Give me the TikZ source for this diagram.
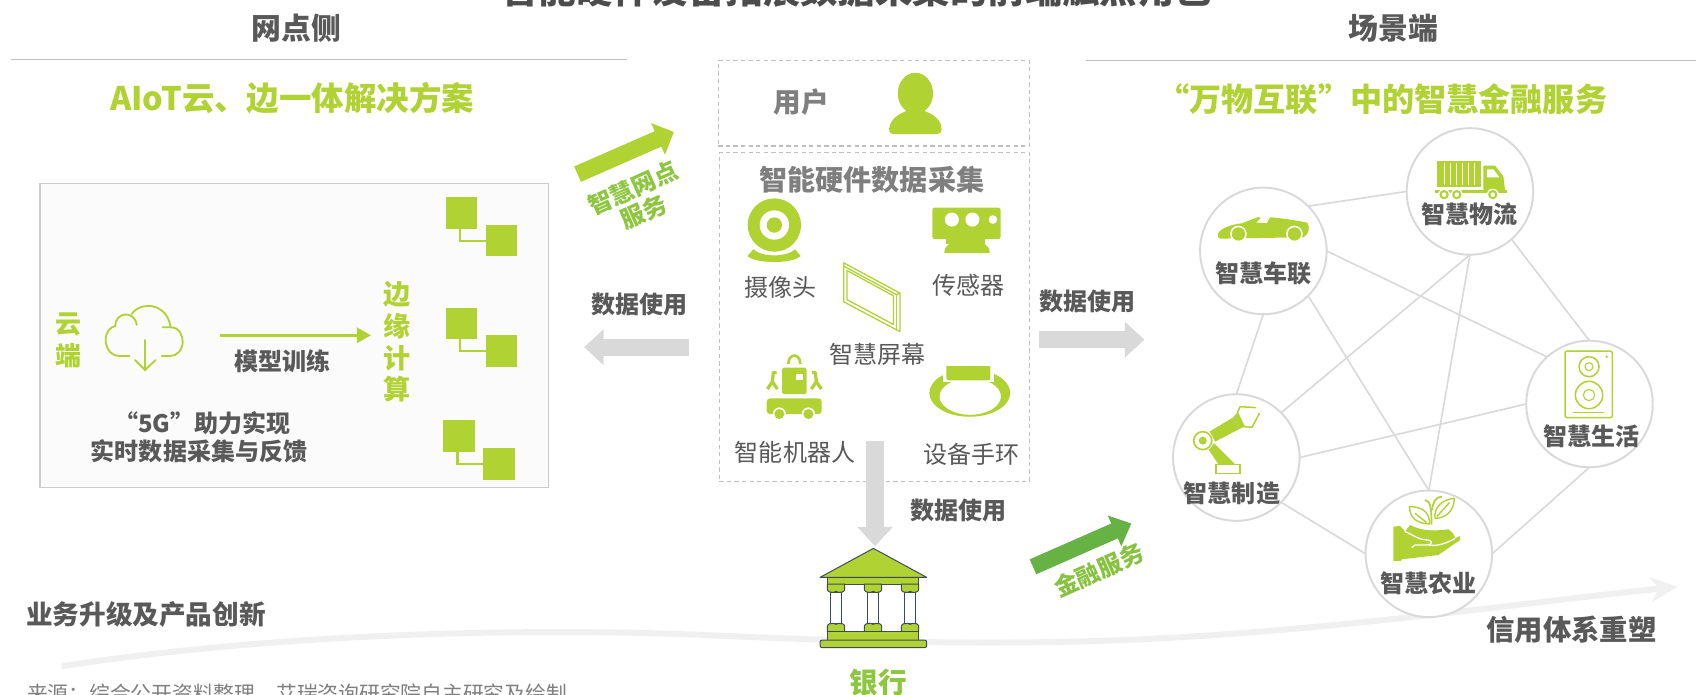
\documentclass[tikz,border=0pt]{standalone}
\usepackage{fontspec}
\setmainfont{Noto Sans CJK SC}
\usetikzlibrary{arrows.meta}
\definecolor{lime}{HTML}{B0D232}
\definecolor{leaf}{HTML}{8DC63F}
\definecolor{grass}{HTML}{66B245}
\definecolor{ink}{HTML}{595959}
\definecolor{soft}{HTML}{7F7F7F}
\definecolor{rule}{HTML}{BFBFBF}
\definecolor{link}{HTML}{D9D9D9}
\definecolor{navy}{HTML}{3D4A5C}
\tikzset{
  every node/.style={inner sep=0pt,outer sep=0pt},
  fs/.style={font=\bfseries\fontsize{#1}{#1}\selectfont},
  fr/.style={font=\fontsize{#1}{#1}\selectfont},
  head/.style={fs=27.6,text=ink},
  limetitle/.style={fs=#1,text=lime},
  blab/.style={fs=22.2,text=ink},
  rlab/.style={fr=22.2,text=ink},
  vtext/.style={fs=#1,text=lime},
  dashbox/.style={draw=rule,line width=1pt,dash pattern=on 4pt off 3pt,fill=white},
  sq/.style={fill=lime,minimum width=29pt,minimum height=29pt},
  sqlink/.style={draw=lime,line width=2pt},
  hub/.style={circle,draw=link,line width=1.8pt,fill=white,minimum size=117pt},
  net/.style={draw=link,line width=1.5pt},
  block/.style={line width=16pt,-{Triangle[width=32pt,length=18pt]}},
  icon/.style={fill=lime,draw=none},
  iconl/.style={draw=lime,line width=1.4pt,fill=none},
  bankp/.style={draw=navy,line width=.9pt,fill=lime,line join=round},
  z4/.style={shift={(647.2,425.3)},x=.3082pt,y=-.3082pt},
}
\begin{document}
\begin{tikzpicture}[x=1pt,y=-1pt]
\useasboundingbox (0,0) rectangle (1568,642.5);
\clip (0,0) rectangle (1568,642.5);
\fill[white] (0,0) rectangle (1568,642.5);

% title and headers
\node[fs=34.6,text=ink!85!black] (title) at (792,-10) {智能硬件设备拓展数据采集的前端触点角色};
\node[head] (hl) at (274,26) {网点侧};
\node[head] (hr) at (1288,26) {场景端};
\coordinate (rl1) at (10,55); \coordinate (rl2) at (580,55);
\coordinate (rr1) at (1004,56); \coordinate (rr2) at (1568,56);
\draw[rule,line width=1.4pt] (rl1) -- (rl2);
\draw[rule,line width=1.4pt] (rr1) -- (rr2);
\node[limetitle=30] (tl) at (270,91) {AIoT云、边一体解决方案};
\node[limetitle=29.7] (tr) at (1278,92) {“万物互联”中的智慧金融服务};

% left panel
\node[draw=rule!80,line width=1pt,fill=black!1.5,minimum width=470pt,minimum height=281pt] (panel) at (272,310.5) {};
\node[vtext=24] (yd1) at (63,300) {云};
\node[vtext=24] (yd2) at (63,329) {端};
\begin{scope}[shift={(37,268.1)},x=.3082pt,y=-.3082pt,line width=1.7pt,draw=lime,line cap=round]
\draw[lime] (268,198) -- (240,198) .. controls (205,198) and (197,165) .. (197,150) .. controls (197,125) and (212,110) .. (226,108)
 .. controls (225,65) and (285,60) .. (290,105);
\draw[lime] (275,72) .. controls (300,35) and (380,35) .. (392,112);
\draw[lime] (368,112) -- (392,112) .. controls (420,112) and (428,140) .. (428,155) .. controls (428,180) and (410,198) .. (392,198) -- (365,198);
\draw[lime] (315,150) -- (315,240);
\draw[lime] (285,210) -- (315,240) -- (347,210);
\end{scope}
\coordinate (ma) at (203,310); \coordinate (mb) at (343,310);
\draw[draw=lime,line width=2.4pt,-{Triangle[width=14pt,length=13pt]}] (ma) -- (mb);
\node[blab] (mx) at (261,334) {模型训练};
\node[vtext=25] (by1) at (367,272) {边};
\node[vtext=25] (by2) at (367,302) {缘};
\node[vtext=25] (by3) at (367,331) {计};
\node[vtext=25] (by4) at (367,360) {算};
\node[blab] (g1) at (187,391) {“5G”助力实现};
\node[blab] (g2) at (184,417) {实时数据采集与反馈};

\node[sq] (a1) at (426.5,197) {}; \node[sq] (b1) at (463.5,222.5) {};
\node[sq] (a2) at (426.5,299) {}; \node[sq] (b2) at (463.5,324.5) {};
\node[sq] (a3) at (424.5,403) {}; \node[sq] (b3) at (461.5,429) {};
\draw[sqlink] ([xshift=-1.5pt]a1.south) |- (b1.west);
\draw[sqlink] ([xshift=-1.5pt]a2.south) |- (b2.west);
\draw[sqlink] ([xshift=-1.5pt]a3.south) |- (b3.west);

% arrow 1 (green)
\coordinate (ga) at (534,161); \coordinate (gb) at (623,122);
\draw[lime,line width=15.5pt,-{Triangle[width=31pt,length=16pt]}] (ga) -- (gb);
\node[fs=22,text=leaf,rotate=24] (ga1) at (585,174) {智慧网点};
\node[fs=22,text=leaf,rotate=24] (ga2) at (595,196) {服务};

% left gray arrow
\node[blab] (du1) at (591,281) {数据使用};
\coordinate (la) at (637,321); \coordinate (lb) at (540,321);
\draw[link,block] (la) -- (lb);

% center boxes
\node[dashbox,minimum width=288pt,minimum height=79pt] (ub) at (808,95.5) {};
\node[dashbox,minimum width=287pt,minimum height=304pt] (hb) at (808.5,293) {};
\node[fs=25.5,text=soft] (ux) at (741,94) {用户};
\fill[lime] (846.3,86.3) ellipse[x radius=16.3,y radius=19];
\fill[lime] (822,119) .. controls (823,108) and (835,103) .. (846,100) .. controls (858,103) and (870,108) .. (870.6,119) .. controls (870.6,123) and (868,124) .. (866,124) -- (826,124) .. controls (824,124) and (822,123) .. (822,119) -- cycle;
\node[fs=26,text=soft] (hx) at (806,166) {智能硬件数据采集};

\begin{scope}[shift={(610.2,37)},x=.3082pt,y=-.3082pt]
% camera
\fill[lime] (343,555) circle[radius=80];
\fill[white] (343,555) circle[radius=44];
\fill[lime] (343,555) circle[radius=23];
\fill[lime] (262,648) .. controls (290,672) and (395,672) .. (422,648) -- (405,628) .. controls (380,652) and (305,652) .. (280,628) -- cycle;
% robot
\fill[lime,rounded corners=1.5pt] (366,983) rectangle (440,1062);
\fill[white] (408,1002) rectangle (430,1020);
\draw[lime,line width=2.4pt] (385,972) .. controls (385,938) and (421,938) .. (421,972);
\draw[lime,line width=3pt,line join=round] (350,997) -- (340,997) -- (337,1025) -- (322,1047);
\draw[lime,line width=3pt] (337,1025) -- (352,1047);
\draw[lime,line width=3pt,line join=round] (456,997) -- (466,997) -- (469,1025) -- (484,1047);
\draw[lime,line width=3pt] (469,1025) -- (454,1047);
\fill[lime,rounded corners=3pt] (320,1075) rectangle (485,1122);
\fill[white] (358,1122) circle[radius=20]; \fill[white] (445,1122) circle[radius=20];
\fill[lime] (358,1122) circle[radius=15]; \fill[lime] (445,1122) circle[radius=15];
\end{scope}
% screen
\begin{scope}[line width=1.2pt,draw=lime,line join=round]
\draw[lime] (780,243) -- (832,271) -- (832,306.6) -- (780,279) -- cycle;
\draw[lime] (780,246) -- (829,272.5) -- (832,271);
\draw[lime] (829,272.5) -- (829,305);
\draw[lime] (783,250) -- (826,273.5) -- (826,300) -- (783,277) -- cycle;
\end{scope}
% sensor
\fill[lime,rounded corners=2pt] (862,192) rectangle (925,221);
\fill[lime] (875,219) rectangle (911,226);
\fill[lime] (884,222) rectangle (904,228);
\fill[lime] (873,234) .. controls (873,226) and (880,224) .. (884,224) -- (904,224) .. controls (908,224) and (915,226) .. (915,234) -- cycle;
\fill[white] (880,203) circle[radius=6.5];
\fill[white] (899,203) circle[radius=6.5];
\fill[white] (918,203) circle[radius=4];
% bracelet
\fill[lime,even odd rule] (896.6,363.3) ellipse[x radius=37.4,y radius=22] (897,366.5) ellipse[x radius=28.4,y radius=17];
\fill[white] (872,335) rectangle (919,353);
\fill[lime,rounded corners=2pt] (875,332) rectangle (915.6,351.6);
\fill[white] (870,330) rectangle (920,338);

\node[rlab] (cam) at (722,266) {摄像头};
\node[rlab] (sen) at (895,264) {传感器};
\node[rlab] (scr) at (811,328) {智慧屏幕};
\node[rlab] (rob) at (735,418) {智能机器人};
\node[rlab] (bra) at (898,420) {设备手环};

% down gray arrow
\coordinate (da) at (809,408); \coordinate (db) at (809,505);
\draw[link,block] (da) -- (db);
\node[blab] (du3) at (886,472) {数据使用};
% right gray arrow
\node[blab] (du2) at (1005,279) {数据使用};
\coordinate (ra) at (961,314); \coordinate (rb) at (1058,314);
\draw[link,block] (ra) -- (rb);
% arrow 2
\coordinate (ha) at (955,524); \coordinate (hb2) at (1046,484);
\draw[grass,line width=15pt,-{Triangle[width=30pt,length=17pt]}] (ha) -- (hb2);
\node[fs=22,text=leaf!85!grass,rotate=24] (jr) at (1016,527) {金融服务};

% trend curve
\coordinate (c0) at (57,616); \coordinate (c1) at (650,587); \coordinate (c2) at (1000,593); \coordinate (c3) at (1551,542.5);
\draw[black!6,line width=5.5pt,-{Stealth[length=25pt,width=23pt,inset=8pt]}] (c0) .. controls (250,586) and (480,580) .. (c1) .. controls (760,592) and (880,596) .. (c2) .. controls (1200,588) and (1400,558) .. (c3);
\node[fs=24.6,text=ink] (yw) at (135,568) {业务升级及产品创新};
\node[fs=26.2,text=ink] (xy) at (1453,582) {信用体系重塑};
\node[fr=19.2,text=soft,anchor=west] (src) at (25,641) {来源：综合公开资料整理，艾瑞咨询研究院自主研究及绘制};

% bank
\begin{scope}[z4]
\draw[bankp] (520,265) -- (680,352) -- (360,352) -- cycle;
\draw[bankp] (382,352) rectangle (656,372);
\foreach \cx in {408,519,630}{
 \draw[draw=navy,line width=.9pt,fill=white] (\cx-17,397) rectangle (\cx+17,490);
 \draw[bankp] (\cx-26,372) -- (\cx+26,372) -- (\cx+26,388) .. controls (\cx+26,396) and (\cx+14,398) .. (\cx+8,397) .. controls (\cx+4,393) and (\cx-4,393) .. (\cx-8,397) .. controls (\cx-14,398) and (\cx-26,396) .. (\cx-26,388) -- cycle;
 \draw[bankp] (\cx-26,515) -- (\cx+26,515) -- (\cx+26,499) .. controls (\cx+26,491) and (\cx+14,489) .. (\cx+8,490) .. controls (\cx+4,494) and (\cx-4,494) .. (\cx-8,490) .. controls (\cx-14,489) and (\cx-26,491) .. (\cx-26,499) -- cycle;
}
\draw[bankp] (382,515) rectangle (656,540);
\draw[bankp,rounded corners=2pt] (360,540) rectangle (680,563);
\end{scope}
\node[fs=26.5,text=leaf] (yh) at (812,631) {银行};

% hubs
\node[hub] (cl) at (1168,232) {};
\node[hub] (wl) at (1359,177) {};
\node[hub] (sh) at (1469.5,373.5) {};
\node[hub] (zz) at (1143,423) {};
\node[hub] (ny) at (1321,512) {};
\draw[net] (cl.45) -- (wl.180);
\draw[net] (cl.0) -- (sh.132);
\draw[net] (cl.270) -- (zz.90);
\draw[net] (cl.315) -- (ny.90);
\draw[net] (wl.270) -- (zz.45);
\draw[net] (wl.270) -- (ny.90);
\draw[net] (wl.311) -- (sh.90);
\draw[net] (zz.0) -- (sh.180);
\draw[net] (zz.315) -- (ny.180);
\draw[net] (ny.0) -- (sh.270);
\node[blab] (t1) at (1168,253) {智慧车联};
\node[blab] (t2) at (1359,198) {智慧物流};
\node[blab] (t3) at (1471.5,403.7) {智慧生活};
\node[blab] (t4) at (1139,456) {智慧制造};
\node[blab] (t5) at (1321,539) {智慧农业};

% zoom-3 based icons
\begin{scope}[shift={(989.3,110.9)},x=.3082pt,y=-.3082pt]
% car
\fill[lime] (443,345) .. controls (445,325) and (490,312) .. (515,310) -- (565,291) -- (572,294) -- (558,308) -- (590,310) -- (600,292) .. controls (640,295) and (680,302) .. (712,308) .. controls (720,325) and (718,340) .. (700,352) -- (450,356) .. controls (444,354) and (442,350) .. (443,345) -- cycle;
\fill[white] (505,342) circle[radius=25]; \fill[white] (673,342) circle[radius=25];
\fill[lime] (505,342) circle[radius=20]; \fill[lime] (673,342) circle[radius=20];
% truck
\fill[lime] (1102,122) rectangle (1232,202);
\foreach \sx in {1122,1140,1158,1176,1194,1212}{\fill[white] (\sx-1.5,130) rectangle (\sx+1.5,194);}
\fill[lime] (1240,137) -- (1275,137) -- (1300,170) -- (1305,212) -- (1240,212) -- cycle;
\fill[white] (1250,148) -- (1270,148) -- (1288,172) -- (1250,172) -- cycle;
\fill[lime] (1095,210) rectangle (1310,220);
\foreach \wx in {1122,1160,1268}{\fill[white] (\wx,224) circle[radius=18]; \fill[lime] (\wx,224) circle[radius=14]; \fill[white] (\wx,224) circle[radius=7];}
% arm
\draw[lime,line width=1.5pt,fill=white] (437,1033) rectangle (510,1060);
\fill[lime] (415,988) -- (432,970) -- (495,1033) -- (445,1033) -- cycle;
\fill[lime] (418,935) -- (488,893) -- (512,925) -- (435,965) -- cycle;
\fill[white] (398,962) circle[radius=32];
\draw[lime,line width=1.5pt] (398,962) circle[radius=27];
\fill[lime] (398,962) circle[radius=12];
\fill[lime] (488,893) -- (502,878) -- (524,920) -- (512,925) -- cycle;
\draw[lime,line width=1.4pt,line join=round] (502,878) -- (510,860) -- (557,863);
\draw[lime,line width=1.4pt,line join=round] (502,878) -- (522,920) -- (546,922) -- (568,880);
\end{scope}
% speaker
\begin{scope}[shift={(1386.8,305.1)},x=.3082pt,y=-.3082pt]
\draw[iconl,rounded corners=2pt] (195,63) rectangle (337,263);
\draw[iconl] (267,110) circle[radius=30];
\draw[iconl,line width=1pt] (267,110) circle[radius=12];
\draw[iconl] (267,195) circle[radius=41];
\draw[iconl,line width=1pt] (267,195) circle[radius=17];
\fill[lime] (320,80) circle[radius=4];
\draw[iconl] (220,248) -- (313,248);
\end{scope}
% plant
\begin{scope}[shift={(1257.4,453)},x=.3082pt,y=-.3082pt]
\fill[lime] (100,110) -- (120,108) -- (135,125) -- (150,105) .. controls (180,120) and (210,125) .. (265,118) .. controls (278,125) and (285,140) .. (285,145) -- (300,138) -- (300,150) -- (235,195) -- (125,208) -- (122,213) -- (100,213) -- cycle;
\draw[white,line width=1.2pt] (135,125) .. controls (160,135) and (175,150) .. (205,150) .. controls (218,152) and (218,165) .. (200,165) -- (165,165) -- (155,173);
\draw[white,line width=1.2pt] (205,165) .. controls (230,170) and (260,160) .. (285,145);
\begin{scope}[line width=1.3pt,line join=round]
\draw[lime] (148,50) .. controls (195,50) and (210,75) .. (208,102) .. controls (170,100) and (150,85) .. (148,50) -- cycle;
\draw[lime] (165,70) -- (200,98);
\draw[lime] (283,25) .. controls (282,60) and (260,85) .. (225,85) .. controls (220,55) and (245,28) .. (283,25) -- cycle;
\draw[lime] (268,38) -- (230,80);
\draw[lime,line width=1.6pt] (195,30) .. controls (212,32) and (215,60) .. (214,104);
\draw[lime,line width=1.6pt] (245,20) .. controls (225,20) and (218,40) .. (216,60);
\end{scope}
\end{scope}
\end{tikzpicture}
\end{document}
